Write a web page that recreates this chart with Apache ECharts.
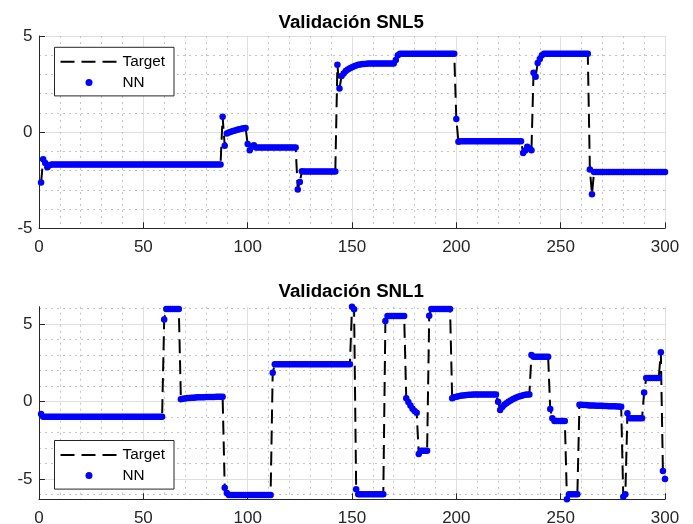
<!DOCTYPE html>
<html><head><meta charset="utf-8">
<script src="https://cdn.jsdelivr.net/npm/echarts@6/dist/echarts.min.js"></script>
<style>html,body{margin:0;padding:0;background:#fff}#c{width:693px;height:524px}</style>
</head><body><div id="c"></div>
<script>
// ---- Data (sample index 1..300) ----
const xTicks = [0, 50, 100, 150, 200, 250, 300];
const yTicksTop = [-5, 0, 5];
const yTicksBottom = [-5, 0, 5];
const titles = ['Validación SNL5', 'Validación SNL1'];
const legendNames = ['Target', 'NN'];

// Top plot (SNL5): NN output, one value per sample
const nnTop = [
-2.62,-1.41,-1.6,-1.82,-1.72,-1.68,-1.68,-1.68,-1.68,-1.68,
-1.68,-1.68,-1.68,-1.68,-1.68,-1.68,-1.68,-1.68,-1.68,-1.68,
-1.68,-1.68,-1.68,-1.68,-1.68,-1.68,-1.68,-1.68,-1.68,-1.68,
-1.68,-1.68,-1.68,-1.68,-1.68,-1.68,-1.68,-1.68,-1.68,-1.68,
-1.68,-1.68,-1.68,-1.68,-1.68,-1.68,-1.68,-1.68,-1.68,-1.68,
-1.68,-1.68,-1.68,-1.68,-1.68,-1.68,-1.68,-1.68,-1.68,-1.68,
-1.68,-1.68,-1.68,-1.68,-1.68,-1.68,-1.68,-1.68,-1.68,-1.68,
-1.68,-1.68,-1.68,-1.68,-1.68,-1.68,-1.68,-1.68,-1.68,-1.68,
-1.68,-1.68,-1.68,-1.68,-1.68,-1.68,-1.68,0.8,-0.71,-0.07,
-0.02,0.02,0.06,0.09,0.12,0.15,0.18,0.2,0.22,-0.61,
-0.94,-0.75,-0.68,-0.8,-0.8,-0.8,-0.8,-0.8,-0.8,-0.8,
-0.8,-0.8,-0.8,-0.8,-0.8,-0.8,-0.8,-0.8,-0.8,-0.8,
-0.8,-0.8,-0.8,-2.98,-2.59,-2.03,-2.05,-2.05,-2.05,-2.05,
-2.05,-2.05,-2.05,-2.05,-2.05,-2.05,-2.05,-2.05,-2.05,-2.05,
-2.05,-2.05,3.5,2.27,2.92,3.05,3.18,3.26,3.32,3.38,
3.43,3.47,3.5,3.52,3.54,3.55,3.56,3.57,3.57,3.57,
3.57,3.57,3.57,3.57,3.57,3.57,3.57,3.57,3.57,3.57,
3.75,4.0,4.08,4.08,4.08,4.08,4.08,4.08,4.08,4.08,
4.08,4.08,4.08,4.08,4.08,4.08,4.08,4.08,4.08,4.08,
4.08,4.08,4.08,4.08,4.08,4.08,4.08,4.08,4.08,0.68,
-0.5,-0.47,-0.47,-0.47,-0.47,-0.47,-0.47,-0.47,-0.47,-0.47,
-0.47,-0.47,-0.47,-0.47,-0.47,-0.47,-0.47,-0.47,-0.47,-0.47,
-0.47,-0.47,-0.47,-0.47,-0.47,-0.47,-0.47,-0.47,-0.47,-0.47,
-0.47,-1.08,-0.95,-0.76,-0.85,-0.94,3.09,2.88,3.6,3.8,
4.0,4.08,4.08,4.08,4.08,4.08,4.08,4.08,4.08,4.08,
4.08,4.08,4.08,4.08,4.08,4.08,4.08,4.08,4.08,4.08,
4.08,4.08,4.08,-1.94,-3.23,-2.07,-2.07,-2.07,-2.07,-2.07,
-2.07,-2.07,-2.07,-2.07,-2.07,-2.07,-2.07,-2.07,-2.07,-2.07,
-2.07,-2.07,-2.07,-2.07,-2.07,-2.07,-2.07,-2.07,-2.07,-2.07,
-2.07,-2.07,-2.07,-2.07,-2.07,-2.07,-2.07,-2.07,-2.07,-2.07
];
// Top plot target: vertices of the dashed line
const targetTopX = [1,2,3,4,5,87,88,89,90,92,94,96,99,100,101,102,103,104,123,124,125,126,127,142,143,144,145,146,147,148,150,152,154,156,158,170,171,172,173,199,200,201,202,231,232,233,234,235,236,237,238,239,240,241,242,263,264,265,266,300];
const targetTopY = [-2.62,-1.41,-1.6,-1.82,-1.72,-1.68,0.8,-0.71,-0.07,0.02,0.09,0.15,0.22,-0.61,-0.94,-0.75,-0.68,-0.8,-0.8,-2.98,-2.59,-2.03,-2.05,-2.05,3.5,2.27,2.92,3.05,3.18,3.26,3.38,3.47,3.52,3.55,3.57,3.57,3.75,4.0,4.08,4.08,0.68,-0.5,-0.47,-0.47,-1.08,-0.95,-0.76,-0.85,-0.94,3.09,2.88,3.6,3.8,4.0,4.08,4.08,-1.94,-3.23,-2.07,-2.07];

// Bottom plot (SNL1): NN output, one value per sample
const nnBottom = [
-0.79,-0.97,-0.97,-0.97,-0.97,-0.97,-0.97,-0.97,-0.97,-0.97,
-0.97,-0.97,-0.97,-0.97,-0.97,-0.97,-0.97,-0.97,-0.97,-0.97,
-0.97,-0.97,-0.97,-0.97,-0.97,-0.97,-0.97,-0.97,-0.97,-0.97,
-0.97,-0.97,-0.97,-0.97,-0.97,-0.97,-0.97,-0.97,-0.97,-0.97,
-0.97,-0.97,-0.97,-0.97,-0.97,-0.97,-0.97,-0.97,-0.97,-0.97,
-0.97,-0.97,-0.97,-0.97,-0.97,-0.97,-0.97,-0.97,-0.97,5.31,
5.98,5.98,5.98,5.98,5.98,5.98,5.98,0.15,0.19,0.21,
0.23,0.24,0.25,0.26,0.27,0.28,0.28,0.29,0.29,0.3,
0.3,0.31,0.31,0.31,0.32,0.32,0.32,0.32,-5.55,-5.9,
-6.02,-6.02,-6.02,-6.02,-6.02,-6.02,-6.02,-6.02,-6.02,-6.02,
-6.02,-6.02,-6.02,-6.02,-6.02,-6.02,-6.02,-6.02,-6.02,-6.02,
-6.02,1.87,2.41,2.41,2.41,2.41,2.41,2.41,2.41,2.41,
2.41,2.41,2.41,2.41,2.41,2.41,2.41,2.41,2.41,2.41,
2.41,2.41,2.41,2.41,2.41,2.41,2.41,2.41,2.41,2.41,
2.41,2.41,2.41,2.41,2.41,2.41,2.41,2.41,2.41,6.13,
5.96,-5.65,-5.97,-5.97,-5.97,-5.97,-5.97,-5.97,-5.97,-5.97,
-5.97,-5.97,-5.97,-5.97,-5.97,5.2,5.53,5.53,5.53,5.53,
5.53,5.53,5.53,5.53,5.53,0.22,-0.02,-0.25,-0.45,-0.6,
-0.72,-3.37,-3.16,-3.16,-3.16,-3.16,5.55,5.98,5.98,5.98,
5.98,5.98,5.98,5.98,5.98,5.98,5.98,0.22,0.28,0.32,
0.35,0.38,0.4,0.42,0.43,0.44,0.45,0.46,0.46,0.46,
0.46,0.46,0.46,0.46,0.46,0.46,0.46,0.46,0.46,0.0,
-0.54,-0.35,-0.2,-0.1,0.0,0.08,0.15,0.22,0.28,0.33,
0.37,0.41,0.44,0.46,0.47,3.01,2.9,2.9,2.9,2.9,
2.9,2.9,2.9,2.9,-0.48,-1.07,-1.25,-1.25,-1.25,-1.25,
-1.25,-1.25,-6.3,-5.98,-5.98,-5.98,-5.98,-5.98,-0.19,-0.2,
-0.21,-0.22,-0.23,-0.24,-0.25,-0.25,-0.26,-0.26,-0.27,-0.27,
-0.28,-0.28,-0.29,-0.29,-0.3,-0.3,-0.31,-0.31,-0.32,-6.13,
-5.98,-0.75,-1.07,-1.07,-1.07,-1.07,-1.07,-1.07,-1.07,0.6,
1.53,1.53,1.53,1.53,1.53,1.53,1.53,3.19,-4.47,-4.99
];
// Bottom plot target: vertices of the dashed line
const targetBottomX = [1,2,59,60,61,67,68,70,73,76,80,88,89,90,91,111,112,113,149,150,151,152,153,165,166,167,175,176,177,178,179,180,181,182,183,186,187,188,197,198,199,201,203,205,208,219,220,221,222,223,224,225,227,229,231,233,235,236,237,244,245,246,247,252,253,254,258,259,279,280,281,282,283,289,290,291,297,298,299,300];
const targetBottomY = [-0.79,-0.97,-0.97,5.31,5.98,5.98,0.15,0.21,0.25,0.28,0.3,0.32,-5.55,-5.9,-6.02,-6.02,1.87,2.41,2.41,6.13,5.96,-5.65,-5.97,-5.97,5.2,5.53,5.53,0.22,-0.02,-0.25,-0.45,-0.6,-0.72,-3.37,-3.16,-3.16,5.55,5.98,5.98,0.22,0.28,0.35,0.4,0.43,0.46,0.46,0.0,-0.54,-0.35,-0.2,-0.1,0.0,0.15,0.28,0.37,0.44,0.47,3.01,2.9,2.9,-0.48,-1.07,-1.25,-1.25,-6.3,-5.98,-5.98,-0.19,-0.32,-6.13,-5.98,-0.75,-1.07,-1.07,0.6,1.53,1.53,3.19,-4.47,-4.99];

// ---- sanity checks ----
if (nnTop.length !== 300) throw new Error('nnTop length ' + nnTop.length);
if (nnBottom.length !== 300) throw new Error('nnBottom length ' + nnBottom.length);
if (targetTopX.length !== targetTopY.length) throw new Error('top target mismatch');
if (targetBottomX.length !== targetBottomY.length) throw new Error('bottom target mismatch');

// ---- build ----
const FONT = '"Liberation Sans", Arial, Helvetica, sans-serif';
const sampleIdx = [];
for (let i = 1; i <= nnTop.length; i++) sampleIdx.push(i);
const zip = (a, b) => a.map((v, i) => [v, b[i]]);

const AX = '#262626';
const TICK_FS = 17, LEG_FS = 15.3, TITLE_FS = 18.7;
const majorGrid = { show: true, lineStyle: { color: '#dfdfdf', width: 1 } };
const minorGrid = { show: true, lineStyle: { color: '#c4c4c4', width: 1, type: [2, 4] } };

function xAxisCfg(gi) {
  return {
    type: 'value', gridIndex: gi, min: xTicks[0], max: xTicks[xTicks.length - 1], interval: 50,
    axisLine: { show: true, onZero: false, lineStyle: { color: AX, width: 1 } },
    axisTick: { show: true, inside: true, length: 6, lineStyle: { color: AX } },
    axisLabel: { fontSize: TICK_FS, color: AX, fontFamily: FONT, margin: 10.5 },
    splitLine: majorGrid,
    minorTick: { show: false, splitNumber: 5 },
    minorSplitLine: minorGrid
  };
}
function legendCfg(top) {
  return {
    data: [{ name: legendNames[0], itemStyle: { opacity: 0 } }, { name: legendNames[1] }],
    orient: 'vertical', left: 54.5, top: top, padding: [7, 9, 6, 5],
    itemWidth: 57, itemHeight: 7, itemGap: 5.6, borderColor: AX, borderWidth: 1, backgroundColor: '#fff',
    selectedMode: false, textStyle: { fontSize: LEG_FS, color: '#000', fontFamily: FONT, lineHeight: 15 }
  };
}
function titleCfg(text, top) {
  return { text: text, left: 278.5, top: top, padding: 0,
    textStyle: { fontSize: TITLE_FS, fontWeight: 'bold', color: '#000', fontFamily: FONT } };
}

const chart = echarts.init(document.getElementById('c'), null, { renderer: 'canvas' });
chart.setOption({
  animation: false,
  backgroundColor: '#fff',
  textStyle: { fontFamily: FONT },
  title: [titleCfg(titles[0], 13.5), titleCfg(titles[1], 282)],
  grid: [
    { left: 39, top: 36, width: 626, height: 192.3, containLabel: false, outerBoundsMode: 'none' },
    { left: 39, top: 306.7, width: 626, height: 192.6, containLabel: false, outerBoundsMode: 'none' }
  ],
  legend: [legendCfg(47.3), legendCfg(440.5)],
  xAxis: [xAxisCfg(0), xAxisCfg(1)],
  yAxis: [
    { type: 'value', gridIndex: 0, min: yTicksTop[0], max: yTicksTop[2], interval: 5,
      axisLine: { show: true, onZero: false, lineStyle: { color: AX, width: 1 } },
      axisTick: { show: true, inside: true, length: 6, lineStyle: { color: AX } },
      axisLabel: { fontSize: TICK_FS, color: AX, fontFamily: FONT, margin: 6.5 },
      splitLine: majorGrid,
      minorTick: { show: false, splitNumber: 5 },
      minorSplitLine: minorGrid },
    { type: 'value', gridIndex: 1, min: -6.3, max: 6.13, position: 'left',
      axisLine: { show: true, onZero: false, lineStyle: { color: AX, width: 1 } },
      axisTick: { show: true, inside: true, length: 6, lineStyle: { color: AX }, customValues: yTicksBottom },
      axisLabel: { fontSize: TICK_FS, color: AX, fontFamily: FONT, margin: 6.5, customValues: yTicksBottom },
      splitLine: majorGrid },
    { type: 'value', gridIndex: 1, min: -6.3, max: 6.13, position: 'left',
      axisLine: { show: false },
      axisTick: { show: false, customValues: [-6, -4, -3, -2, -1, 1, 2, 3, 4, 6] },
      axisLabel: { show: false },
      splitLine: minorGrid }
  ],
  series: [
    { type: 'line', name: 'Target', xAxisIndex: 0, yAxisIndex: 0, data: zip(targetTopX, targetTopY),
      symbol: 'none', lineStyle: { color: '#000', width: 2, type: [14, 7] }, itemStyle: { color: '#000' }, z: 2, silent: true },
    { type: 'scatter', name: 'NN', xAxisIndex: 0, yAxisIndex: 0, data: zip(sampleIdx, nnTop),
      symbol: 'circle', symbolSize: 6.5, itemStyle: { color: '#0000ff', opacity: 1 }, z: 3, clip: false, silent: true },
    { type: 'line', name: 'Target', xAxisIndex: 1, yAxisIndex: 1, data: zip(targetBottomX, targetBottomY),
      symbol: 'none', lineStyle: { color: '#000', width: 2, type: [14, 7] }, itemStyle: { color: '#000' }, z: 2, silent: true },
    { type: 'scatter', name: 'NN', xAxisIndex: 1, yAxisIndex: 1, data: zip(sampleIdx, nnBottom),
      symbol: 'circle', symbolSize: 6.5, itemStyle: { color: '#0000ff', opacity: 1 }, z: 3, clip: false, silent: true }
  ]
});
</script></body></html>
